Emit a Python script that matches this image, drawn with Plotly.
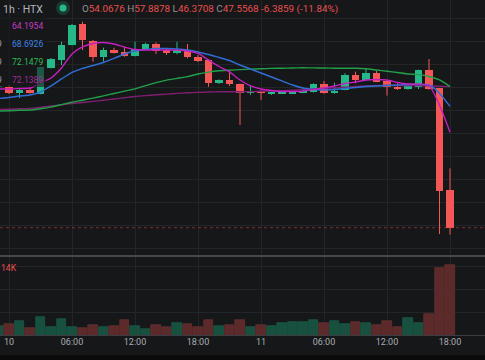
import plotly.graph_objects as go

# ---------------- data (1h candles, HTX) ----------------
hours = list(range(-1, 43))  # hours from day 10 00:00
opens = [72.07, 72.15, 70.97, 71.55, 70.85, 75.33, 76.77, 79.39, 83.04, 80.14,
         77.24, 78.52, 78.22, 77.52, 78.69, 79.56, 78.52, 77.94, 78.52, 77.35,
         76.77, 72.71, 73.29, 72.59, 70.97, 71.42, 70.85, 70.97, 70.97, 71.11,
         71.15, 72.59, 70.97, 71.55, 74.16, 73.29, 74.46, 73.12, 72.12, 71.72,
         72.12, 75.03, 71.84, 54.0676]
highs = [72.40, 72.45, 71.90, 72.00, 75.60, 77.12, 79.96, 83.04, 83.45, 80.26,
         78.92, 78.92, 79.09, 79.96, 79.79, 79.85, 78.86, 79.96, 79.56, 77.64,
         76.90, 73.40, 74.73, 72.70, 72.42, 71.50, 71.20, 71.42, 71.30, 71.89,
         72.70, 73.12, 72.82, 74.46, 74.73, 75.20, 74.86, 73.20, 72.71, 72.30,
         75.10, 76.95, 71.90, 57.8878]
lows = [71.90, 70.85, 70.15, 70.90, 70.80, 75.30, 75.90, 79.30, 78.52, 76.48,
        76.48, 77.90, 77.35, 77.40, 78.60, 77.82, 77.64, 77.77, 77.07, 76.43,
        72.12, 72.60, 72.24, 65.45, 70.68, 69.81, 70.70, 70.90, 70.90, 71.00,
        71.10, 70.90, 70.90, 71.50, 72.71, 73.20, 72.90, 70.56, 71.55, 71.60,
        71.72, 71.60, 46.46, 46.3708]
closes = [72.24, 70.97, 71.55, 70.97, 75.55, 76.90, 79.39, 82.87, 80.26, 77.24,
          78.52, 78.04, 77.52, 78.69, 79.56, 78.39, 77.94, 78.52, 77.35, 76.65,
          72.71, 73.29, 72.54, 70.97, 71.37, 70.97, 71.08, 71.15, 71.25, 71.37,
          72.59, 70.97, 71.42, 74.16, 73.29, 74.46, 73.00, 72.12, 71.72, 72.24,
          75.03, 71.72, 53.9427, 47.5568]
volumes = [1800, 2200, 2800, 1340, 3660, 1540, 3200, 1660, 1400, 2000,
           1660, 1800, 3000, 1800, 1200, 2000, 1660, 2340, 2200, 1540,
           3000, 1800, 2000, 3000, 1540, 2000, 1800, 2460, 2660, 2660,
           3000, 2340, 2800, 2200, 2660, 2340, 2000, 2800, 1660, 3460,
           2460, 4140, 13460, 14000]
ma5 = [71.72, 71.72, 71.81, 71.89, 72.77, 73.64, 75.38, 77.82, 79.04, 79.65,
       79.82, 79.56, 79.04, 78.60, 78.52, 78.52, 78.52, 78.52, 78.34, 77.91,
       76.78, 75.64, 74.69, 73.29, 72.25, 71.72, 71.46, 71.29, 71.29, 71.37,
       71.64, 71.89, 72.25, 72.68, 72.94, 73.29, 73.38, 73.29, 72.86, 72.59,
       72.59, 72.33, 68.93, 64.1954]
ma10 = [70.07, 70.24, 70.50, 70.68, 71.20, 72.25, 73.47, 74.60, 75.30, 75.82,
        76.34, 77.04, 77.82, 78.34, 78.60, 78.78, 78.78, 78.69, 78.52, 78.17,
        77.73, 77.21, 76.69, 75.90, 75.20, 74.51, 73.81, 73.12, 72.42, 71.89,
        71.64, 71.55, 71.64, 71.81, 71.98, 72.16, 72.25, 72.33, 72.42, 72.51,
        72.51, 72.42, 71.00, 68.6926]
ma30 = [67.89, 67.94, 68.01, 68.06, 68.29, 68.57, 69.00, 69.42, 69.77, 70.13,
        70.52, 70.94, 71.34, 71.74, 72.31, 72.82, 73.27, 73.57, 73.88, 74.33,
        74.66, 74.89, 75.00, 75.10, 75.19, 75.24, 75.31, 75.34, 75.38, 75.41,
        75.40, 75.38, 75.34, 75.33, 75.33, 75.24, 75.03, 74.82, 74.60, 74.33,
        74.23, 73.90, 73.29, 72.1479]
ma60 = [68.15, 68.20, 68.27, 68.34, 68.51, 68.76, 68.98, 69.19, 69.37, 69.56,
        69.75, 69.98, 70.19, 70.41, 70.57, 70.71, 70.83, 70.95, 71.06, 71.13,
        71.20, 71.23, 71.25, 71.25, 71.27, 71.32, 71.37, 71.44, 71.53, 71.62,
        71.72, 71.82, 71.93, 72.03, 72.16, 72.24, 72.30, 72.33, 72.33, 72.33,
        72.31, 72.28, 72.21, 72.1389]
tick_hours = [0, 6, 12, 18, 24, 30, 36, 42]
tick_labels = ["10", "06:00", "12:00", "18:00", "11", "06:00", "12:00", "18:00"]
ma_labels = ["64.1954", "68.6926", "72.1479", "72.1389"]

# ---------------- styling ----------------
W, H = 485, 360
BG = "#161719"
GRID = "#232529"
UP = "#26b888"
DN = "#f55656"
VUP = "#17503e"
VDN = "#5c2a2b"
MA_COLORS = ["#c41fbf", "#2f6ed4", "#22a04a", "#7e1f70"]
MA_TEXT = ["#c93bc2", "#3f83e0", "#2fbb55", "#a02f92"]
FONT = "Roboto"


def py(p):  # pixel row -> paper y
    return 1 - p / H


def px(p):  # pixel column -> paper x
    return p / W


up_idx = [i for i in range(len(hours)) if closes[i] >= opens[i]]
dn_idx = [i for i in range(len(hours)) if closes[i] < opens[i]]

fig = go.Figure()


def wick_xy(idx):
    xs, ys = [], []
    for i in idx:
        xs += [hours[i], hours[i], None]
        ys += [lows[i], highs[i], None]
    return xs, ys


for idx, col in ((up_idx, UP), (dn_idx, DN)):
    wx, wy = wick_xy(idx)
    fig.add_trace(go.Scatter(x=wx, y=wy, mode="lines", line=dict(color=col, width=1),
                             xaxis="x", yaxis="y", hoverinfo="skip", showlegend=False))
    fig.add_trace(go.Bar(
        x=[hours[i] for i in idx],
        base=[min(opens[i], closes[i]) for i in idx],
        y=[max(abs(closes[i] - opens[i]), 0.12) for i in idx],
        width=0.72, marker=dict(color=col, line=dict(width=0)),
        xaxis="x", yaxis="y", hoverinfo="skip", showlegend=False))

for vals, col, w in ((ma60, MA_COLORS[3], 1.4), (ma30, MA_COLORS[2], 1.4),
                     (ma10, MA_COLORS[1], 1.4), (ma5, MA_COLORS[0], 1.4)):
    fig.add_trace(go.Scatter(x=hours, y=vals, mode="lines",
                             line=dict(color=col, width=w, shape="spline", smoothing=0.6),
                             xaxis="x", yaxis="y", hoverinfo="skip", showlegend=False))

vcols = [VUP if closes[i] >= opens[i] else VDN for i in range(len(hours))]
vline = ["#1e6650" if closes[i] >= opens[i] else "#723434" for i in range(len(hours))]
fig.add_trace(go.Bar(x=hours, y=volumes, width=0.94,
                     marker=dict(color=vcols, line=dict(color=vline, width=0.6)),
                     xaxis="x2", yaxis="y2", hoverinfo="skip", showlegend=False))

xr = [(0 - 9) / 10.5, (W - 9) / 10.5]
price_top = 47.5568 + 227.7 / 5.74
price_bot = 47.5568 + (227.7 - 256) / 5.74

fig.update_layout(
    width=W, height=H, margin=dict(l=0, r=0, t=0, b=0),
    paper_bgcolor=BG, plot_bgcolor=BG, barmode="overlay", bargap=0,
    font=dict(family=FONT, color="#a9acb2", size=9),
    showlegend=False, hovermode=False,
    xaxis=dict(domain=[0, 1], range=xr, anchor="y", tickvals=tick_hours,
               showticklabels=False, showgrid=True, gridcolor=GRID, gridwidth=1,
               zeroline=False, showline=False, ticks=""),
    yaxis=dict(domain=[py(256), 1], range=[price_bot, price_top], dtick=4, tick0=0,
               showticklabels=False, showgrid=True, gridcolor=GRID, zeroline=False,
               showline=False, ticks=""),
    xaxis2=dict(domain=[0, 1], range=xr, anchor="y2", matches="x", tickvals=tick_hours,
                ticktext=tick_labels, showticklabels=True, showgrid=True, gridcolor=GRID,
                zeroline=False, showline=False, ticks="",
                tickfont=dict(size=9, color="#a9acb2", family=FONT)),
    yaxis2=dict(domain=[py(335), py(256)], range=[0, (335 - 256) * 200], dtick=4600,
                tick0=0, showticklabels=False, showgrid=True, gridcolor=GRID,
                zeroline=False, showline=False, ticks=""),
)

shapes = [
    # current price dotted line
    dict(type="line", xref="paper", yref="y", x0=0, x1=1, y0=closes[-1], y1=closes[-1],
         line=dict(color="rgba(200,70,70,0.55)", width=1, dash="dot")),
    # pane separator
    dict(type="line", xref="paper", yref="paper", x0=0, x1=1, y0=py(256), y1=py(256),
         line=dict(color="#45484d", width=2)),
    # time axis border
    dict(type="line", xref="paper", yref="paper", x0=0, x1=1, y0=py(335.5), y1=py(335.5),
         line=dict(color="#3a3d42", width=1)),
    # bottom dark strip
    dict(type="rect", xref="paper", yref="paper", x0=0, x1=1, y0=0, y1=py(355),
         fillcolor="#0a0a0b", line=dict(width=0)),
    # legend backdrop
    dict(type="rect", xref="paper", yref="paper", x0=0, x1=px(46), y0=py(87), y1=py(18),
         fillcolor="rgba(22,23,25,0.6)", line=dict(width=0), layer="above"),
    # status dot glow + dot
    dict(type="circle", xref="paper", yref="paper", x0=px(56), x1=px(70), y0=py(15), y1=py(1),
         fillcolor="rgba(38,184,136,0.22)", line=dict(width=0)),
    dict(type="circle", xref="paper", yref="paper", x0=px(59.5), x1=px(66.5), y0=py(11.5), y1=py(4.5),
         fillcolor="#26b888", line=dict(width=0)),
]
fig.update_layout(shapes=shapes)

ann = []
ann.append(dict(xref="paper", yref="paper", x=px(0.5), y=py(9), xanchor="left", yanchor="middle",
                text="1h · HTX", showarrow=False, font=dict(size=10.5, color="#b3b6bc", family=FONT)))
g = "#8e9197"
r = "#e8504f"
o, h, l, c = opens[-1], highs[-1], lows[-1], closes[-1]
chg = c - closes[-2]
pct = chg / closes[-2] * 100
hdr = (f"<span style='color:{g}'>O</span>{o:.4f} <span style='color:{g}'>H</span>{h:.4f} "
       f"<span style='color:{g}'>L</span>{l:.4f} <span style='color:{g}'>C</span>{c:.4f} "
       f"{chg:.4f} ({pct:.2f}%)")
ann.append(dict(xref="paper", yref="paper", x=px(79.5), y=py(9), xanchor="left", yanchor="middle",
                text=hdr, showarrow=False, font=dict(size=9.9, color=r, family=FONT)))
for k, (lab, col) in enumerate(zip(ma_labels, MA_TEXT)):
    yy = 26 + 18 * k
    ann.append(dict(xref="paper", yref="paper", x=px(10), y=py(yy), xanchor="left",
                    yanchor="middle", text=lab, showarrow=False,
                    font=dict(size=8.6, color=col, family=FONT)))
    if k > 0:
        ann.append(dict(xref="paper", yref="paper", x=px(3.5), y=py(yy), xanchor="right",
                        yanchor="middle", text="9", showarrow=False,
                        font=dict(size=8.6, color="#9a9da3", family=FONT)))
ann.append(dict(xref="paper", yref="paper", x=px(-1.5), y=py(268), xanchor="left",
                yanchor="middle", text="14K", showarrow=False,
                font=dict(size=8.6, color="#e8504f", family=FONT)))
fig.update_layout(annotations=ann)

fig.write_html("out.html", config={"displayModeBar": False},
               post_script="document.body.style.margin='0';")
